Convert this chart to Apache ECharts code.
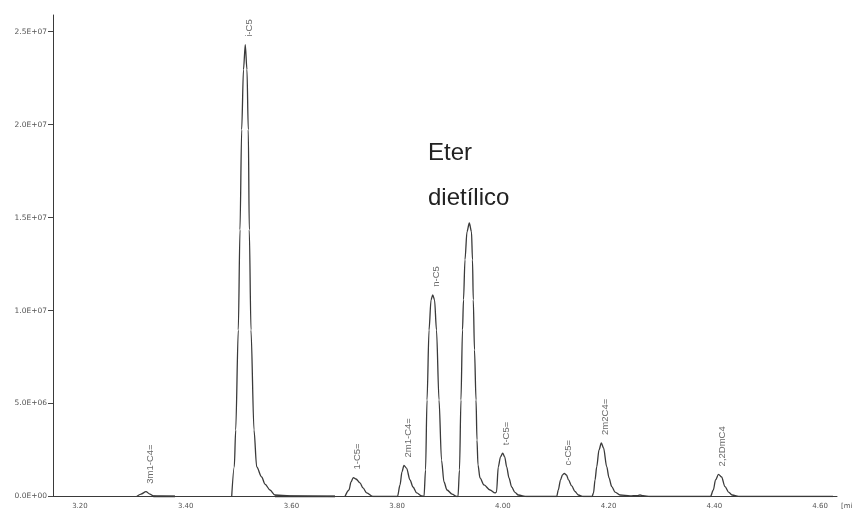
<!DOCTYPE html>
<html>
<head>
<meta charset="utf-8">
<script src="https://cdn.jsdelivr.net/npm/echarts@6/dist/echarts.min.js"></script>
<style>
  html, body { margin: 0; padding: 0; background: #fff; }
  #chart { width: 853px; height: 512px; }
</style>
</head>
<body>
<div id="chart"></div>
<script>
// Chromatogram trace, [retention time (min), detector counts], drawn in three stretches
const traceEarly = [
  [3.3073, 0], [3.3154, 0.13e6], [3.3249, 0.26e6], [3.3324, 0.13e6], [3.3387, 0.03e6],
  [3.3513, 0.02e6], [3.3797, 0.01e6]
];
const traceIsoPentane = [
  [3.4870, 0], [3.4919, 1.59e6], [3.4946, 3.58e6], [3.4995, 8.96e6], [3.5027, 14.34e6],
  [3.5059, 19.73e6], [3.5093, 22.96e6], [3.5127, 24.30e6], [3.5159, 22.96e6], [3.5184, 19.73e6],
  [3.5203, 14.34e6], [3.5235, 8.96e6], [3.5292, 3.58e6], [3.5343, 1.59e6], [3.5437, 1.05e6],
  [3.5500, 0.67e6], [3.5594, 0.35e6], [3.5689, 0.08e6], [3.5973, 0.03e6], [3.6824, 0]
];
const traceLate = [
  // 1-C5=
  [3.7013, 0], [3.7089, 0.35e6], [3.7127, 0.78e6], [3.7170, 1.02e6], [3.7221, 0.94e6],
  [3.7297, 0.73e6], [3.7354, 0.46e6], [3.7424, 0.19e6], [3.7543, 0], [3.7865, 0],
  // 2m1-C4=
  [3.8006, 0], [3.8054, 0.62e6], [3.8091, 1.32e6], [3.8129, 1.67e6], [3.8177, 1.53e6],
  [3.8243, 0.89e6], [3.8300, 0.51e6], [3.8370, 0.19e6], [3.8465, 0.03e6],
  // n-C5
  [3.8508, 0], [3.8537, 1.43e6], [3.8565, 5.19e6], [3.8603, 8.96e6], [3.8641, 10.58e6],
  [3.8673, 10.85e6], [3.8707, 10.58e6], [3.8744, 8.96e6], [3.8792, 5.19e6], [3.8839, 1.96e6],
  [3.8886, 0.78e6], [3.8943, 0.35e6], [3.9038, 0.13e6], [3.9123, 0],
  // eter dietílico
  [3.9151, 0], [3.9179, 1.43e6], [3.9207, 5.19e6], [3.9236, 8.96e6], [3.9255, 10.58e6],
  [3.9283, 12.73e6], [3.9321, 14.24e6], [3.9365, 14.72e6], [3.9406, 14.24e6], [3.9425, 12.73e6],
  [3.9440, 10.58e6], [3.9463, 7.88e6], [3.9492, 5.19e6], [3.9510, 3.04e6], [3.9529, 1.70e6],
  [3.9567, 1.00e6], [3.9643, 0.62e6], [3.9757, 0.35e6], [3.9851, 0.19e6],
  // t-C5=
  [3.9879, 0.24e6], [3.9913, 1.59e6], [3.9955, 2.13e6], [3.9996, 2.33e6], [4.0034, 2.13e6],
  [4.0072, 1.59e6], [4.0115, 1.00e6], [4.0166, 0.51e6], [4.0229, 0.22e6], [4.0292, 0.08e6],
  [4.0451, 0], [4.0891, 0],
  // c-C5=
  [4.1018, 0], [4.1048, 0.35e6], [4.1090, 0.89e6], [4.1127, 1.16e6], [4.1162, 1.24e6],
  [4.1203, 1.16e6], [4.1241, 0.89e6], [4.1302, 0.57e6], [4.1364, 0.27e6], [4.1427, 0.08e6],
  [4.1521, 0], [4.1686, 0],
  // 2m2C4=
  [4.1714, 0.19e6], [4.1743, 0.89e6], [4.1775, 1.60e6], [4.1818, 2.50e6], [4.1862, 2.88e6],
  [4.1904, 2.61e6], [4.1964, 1.60e6], [4.2008, 1.00e6], [4.2059, 0.53e6], [4.2121, 0.24e6],
  [4.2216, 0.08e6], [4.2405, 0.03e6], [4.2537, 0.05e6], [4.2594, 0.08e6], [4.2651, 0.05e6],
  [4.2783, 0], [4.3729, 0],
  // 2,2DmC4
  [4.3927, 0], [4.3981, 0.35e6], [4.4022, 0.89e6], [4.4079, 1.19e6], [4.4136, 1.05e6],
  [4.4202, 0.53e6], [4.4268, 0.24e6], [4.4335, 0.08e6], [4.4486, 0], [4.6245, 0]
];

// Integration baselines drawn heavier under the trace
const integrationBaselines = [
  [[3.3387, 0], [3.3797, 0]],
  [[3.5689, 0], [3.6824, 0]]
];

// Peak identifications at the peak apexes
const peakNames   = ['3m1-C4=', 'i-C5', '1-C5=', '2m1-C4=', 'n-C5', 't-C5=', 'c-C5=', '2m2C4=', '2,2DmC4'];
const peakTimes   = [3.3249, 3.5127, 3.7170, 3.8129, 3.8673, 3.9996, 4.1162, 4.1862, 4.4079];
const peakSignals = [0.26e6, 24.30e6, 1.02e6, 1.67e6, 10.85e6, 2.33e6, 1.24e6, 2.88e6, 1.19e6];

// Axis ticks
const xTickValues = [3.2, 3.4, 3.6, 3.8, 4.0, 4.2, 4.4, 4.6];
const xTickLabels = ['3.20', '3.40', '3.60', '3.80', '4.00', '4.20', '4.40', '4.60'];
const yTickValues = [0, 5e6, 10e6, 15e6, 20e6, 25e6];
const yTickLabels = ['0.0E+00', '5.0E+06', '1.0E+07', '1.5E+07', '2.0E+07', '2.5E+07'];

function tickText(values, labels) {
  return function (v) {
    const i = values.findIndex(function (t) { return Math.abs(t - v) < 1e-6 * Math.max(1, Math.abs(t)); });
    return i >= 0 ? labels[i] : '';
  };
}

const gap = [3.43, '-'];
const gap2 = [3.69, '-'];
const trace = traceEarly.concat([gap], traceIsoPentane, [gap2], traceLate);

const baselineData = [];
integrationBaselines.forEach(function (seg, i) {
  if (i > 0) baselineData.push([seg[0][0] - 0.001, '-']);
  seg.forEach(function (p) { baselineData.push(p); });
});

const chart = echarts.init(document.getElementById('chart'), null, { renderer: 'canvas' });
chart.setOption({
  animation: false,
  backgroundColor: '#ffffff',
  grid: { left: 53, right: 16, top: 15, bottom: 15.5 },
  xAxis: {
    type: 'value',
    min: 3.149,
    max: 4.632,
    offset: 3.5,
    axisLine: { lineStyle: { color: '#3a3a3a', width: 1 } },
    axisTick: { show: false, customValues: xTickValues },
    axisLabel: {
      customValues: xTickValues,
      formatter: tickText(xTickValues, xTickLabels),
      margin: 3,
      fontFamily: 'DejaVu Sans',
      fontSize: 7,
      color: '#555'
    },
    splitLine: { show: false }
  },
  yAxis: {
    type: 'value',
    min: 0,
    max: 25.9e6,
    interval: 5e6,
    axisLine: { show: true, lineStyle: { color: '#3a3a3a', width: 1 } },
    axisTick: { show: true, length: 5, customValues: yTickValues, lineStyle: { color: '#444' } },
    axisLabel: {
      customValues: yTickValues,
      formatter: tickText(yTickValues, yTickLabels),
      margin: 6,
      fontFamily: 'DejaVu Sans',
      fontSize: 7.5,
      color: '#555'
    },
    splitLine: { show: false }
  },
  series: [
    {
      name: 'baseline',
      type: 'line',
      data: baselineData,
      showSymbol: false,
      connectNulls: false,
      lineStyle: { color: '#333', width: 2.2 },
      z: 3
    },
    {
      name: 'signal',
      type: 'line',
      data: trace,
      showSymbol: false,
      connectNulls: false,
      smooth: 0.3,
      smoothMonotone: 'x',
      lineStyle: { color: '#3a3a3a', width: 1.3 },
      z: 4
    },
    {
      name: 'peaks',
      type: 'scatter',
      data: peakTimes.map(function (t, i) { return { value: [t, peakSignals[i]], name: peakNames[i] }; }),
      symbolSize: 0,
      silent: true,
      label: {
        show: true,
        position: 'top',
        distance: 8,
        rotate: 90,
        align: 'left',
        verticalAlign: 'middle',
        offset: [0, 4],
        formatter: function (p) { return p.name; },
        fontFamily: 'Liberation Sans',
        fontSize: 9.5,
        color: '#444'
      },
      z: 5
    }
  ],
  graphic: [
    {
      type: 'text',
      left: 428,
      top: 141,
      style: { text: 'Eter', font: '24px "Liberation Sans", Arial, sans-serif', fill: '#222' }
    },
    {
      type: 'text',
      left: 428,
      top: 186,
      style: { text: 'dietílico', font: '24px "Liberation Sans", Arial, sans-serif', fill: '#222' }
    },
    {
      type: 'text',
      left: 841,
      top: 503,
      style: { text: '[min', font: '7px "DejaVu Sans", sans-serif', fill: '#555' }
    }
  ]
});
</script>
</body>
</html>
